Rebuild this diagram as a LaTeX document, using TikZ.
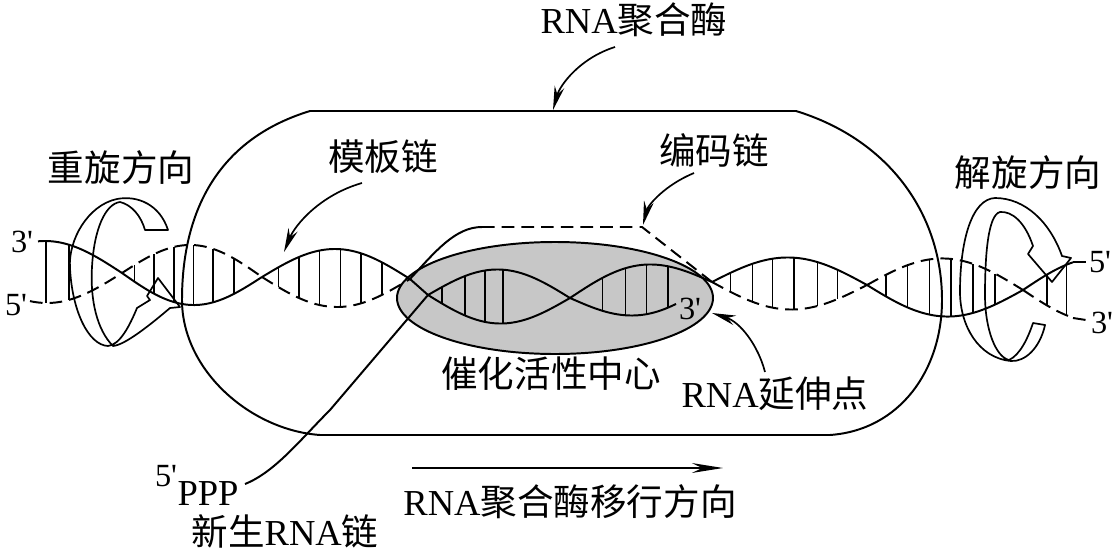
\documentclass[tikz,border=0pt]{standalone}
\usepackage{fontspec}
\setmainfont{Liberation Serif}
\newfontfamily\cjk{Noto Sans CJK SC}
\usetikzlibrary{arrows.meta}
\begin{document}
\begin{tikzpicture}[x=0.025cm, y=-0.025cm, line width=1.4pt,
	tmpl/.style={},
	cod/.style={dash pattern=on 9pt off 5pt},
	rna/.style={},
	rung/.style={line width=1.1pt},
	ring/.style={line width=1.2pt, line join=round},
	lbl/.style={inner sep=0pt, font=\fontsize{26}{30}\selectfont},
	endlbl/.style={inner sep=0pt, font=\fontsize{23}{26}\selectfont},
	pointer/.style={-{Stealth[length=17pt,width=7pt]}, line width=1.2pt}]
	\useasboundingbox (0,0) rectangle (1119,552);
	% enzyme
	\draw (310,111) -- (796,111) .. controls (890,140) and (942,215) .. (942,300)
		.. controls (942,370) and (900,430) .. (830,435) -- (320,435)
		.. controls (250,430) and (182,370) .. (182,300)
		.. controls (182,215) and (215,140) .. (310,111) -- cycle;
	\draw [fill=black!22] (555,298) ellipse [x radius=158, y radius=56];
	% strands
	\foreach \a/\ya/\b/\yb/\A/\ds/\de/\sg/\sty in {
		-30/271/122/273/31/38/122/-1/tmpl, -30/271/122/273/31/30/122/1/cod,
		122/273/262/277/30/122/262/-1/cod, 122/273/262/277/30/122/262/1/tmpl,
		262/277/410/279/29/262/410/-1/tmpl, 262/277/410/279/29/262/410/1/cod,
		428/295/570/298/27/428/570/-1/rna, 428/295/570/298/27/428/570/1/tmpl,
		570/298/712/282/25/570/712/-1/tmpl, 570/298/712/282/25/570/676/1/rna,
		712/282/867/285/26/712/867/-1/tmpl, 712/282/867/285/26/712/867/1/cod,
		867/285/1023/290/29/867/1023/-1/cod, 867/285/1023/290/29/867/1023/1/tmpl,
		1023/290/1173/290/32/1023/1073/-1/tmpl, 1023/290/1173/290/32/1023/1073/1/cod} {
		\draw [\sty, domain=\ds:\de, samples=30, smooth] plot (\x, {\ya+(\yb-\ya)*((\x-(\a))/(\b-(\a)))+(\sg)*\A*sin(180*((\x-(\a))/(\b-(\a))))});
	}
	% base pairs
	\foreach \a/\ya/\b/\yb/\A/\tl in {
		-30/271/122/273/31/{0.5,0.65},
		122/273/262/277/30/{0.09,0.23,0.37,0.51,0.65,0.8},
		262/277/410/279/29/{0.11,0.25,0.39,0.53,0.67,0.81},
		428/295/570/298/27/{0.1,0.26,0.4,0.53},
		570/298/712/282/25/{0.23,0.39,0.54,0.69},
		712/282/867/285/26/{0.12,0.26,0.39,0.53,0.68,0.81},
		867/285/1023/290/29/{0.12,0.26,0.4,0.54,0.68,0.82},
		1023/290/1173/290/32/{0.16,0.29}} {
		\foreach \rt in \tl {
			\pgfmathsetmacro\rx{\a+\rt*(\b-(\a))}
			\pgfmathsetmacro\rc{\ya+\rt*(\yb-\ya)}
			\pgfmathsetmacro\rh{\A*sin(180*\rt)}
			\draw [rung] (\rx,\rc-\rh) -- (\rx,\rc+\rh);
		}
	}
	\draw [tmpl] (410,279) -- (428,295);
	\draw (410,279) .. controls (435,252) and (455,227) .. (482,227);
	\draw [cod] (482,227) -- (642,227) -- (712,282);
	\draw [rna] (245,484) .. controls (275,472) and (300,440) .. (330,410) -- (428,295);
	\draw [tmpl] (1073,262) -- (1086,262);
	\draw [cod] (1073,318) -- (1086,320);
	% rotation arrows
	\draw [ring] (168,230) .. controls (160,205) and (138,195) .. (117,199)
		.. controls (88,205) and (68,240) .. (70,268)
		.. controls (72,310) and (88,345) .. (108,346)
		.. controls (120,345) and (130,325) .. (137,308)
		-- (150,300) -- (147,296) -- (158,278) -- (180,307) -- (170,308)
		.. controls (150,325) and (125,345) .. (113,346)
		.. controls (97,330) and (90,300) .. (92,267)
		.. controls (94,230) and (105,204) .. (120,202)
		.. controls (132,205) and (141,216) .. (145,230) -- cycle;
	\draw [ring] (1045,325) .. controls (1040,348) and (1025,362) .. (1011,361)
		.. controls (978,358) and (960,325) .. (960,292)
		.. controls (960,240) and (972,199) .. (995,198)
		.. controls (1025,198) and (1050,222) .. (1062,256)
		-- (1071,258) -- (1052,282) -- (1028,254) -- (1033,246)
		.. controls (1025,222) and (1012,211) .. (1000,212)
		.. controls (988,215) and (985,255) .. (985,295)
		.. controls (985,330) and (996,357) .. (1009,360)
		.. controls (1020,355) and (1028,338) .. (1033,323) -- cycle;
	% labels
	\node [lbl] (enzLbl) at (634,20) {RNA{\cjk 聚合酶}};
	\node [lbl] (tmplLbl) at (383,157) {\cjk 模板链};
	\node [lbl] (codLbl) at (714,150) {\cjk 编码链};
	\node [lbl] (rewind) at (121,168) {\cjk 重旋方向};
	\node [lbl] (unwind) at (1028,173) {\cjk 解旋方向};
	\node [lbl] (centre) at (551,374) {\cjk 催化活性中心};
	\node [lbl] (growLbl) at (775,394) {RNA{\cjk 延伸点}};
	\node [lbl] (moveLbl) at (570,502) {RNA{\cjk 聚合酶移行方向}};
	\node [lbl] (newRna) at (285,531) {{\cjk 新生}RNA{\cjk 链}};
	\node [endlbl, font=\fontsize{26}{28}\selectfont] (ppp) at (208,494) {PPP};
	\node [endlbl] (ppp5) at (166,476) {5\textquotesingle};
	\node [endlbl] (l3) at (22,242) {3\textquotesingle};
	\node [endlbl] (l5) at (16,305) {5\textquotesingle};
	\node [endlbl] (r5) at (1100,262) {5\textquotesingle};
	\node [endlbl] (r3) at (1102,323) {3\textquotesingle};
	\node [endlbl] (rna3) at (690,309) {3\textquotesingle};
	% pointers
	\coordinate (enzFrom) at (615,47);
	\coordinate (enzTo) at (553,110);
	\coordinate (tmplFrom) at (362,183);
	\coordinate (tmplTo) at (284,252);
	\coordinate (codFrom) at (694,173);
	\coordinate (codTo) at (643,225);
	\coordinate (growFrom) at (765,372);
	\coordinate (growTo) at (712,313);
	\coordinate (moveFrom) at (412,468);
	\coordinate (moveTo) at (723,468);
	\draw [pointer] (enzFrom) .. controls (580,58) and (560,85) .. (enzTo);
	\draw [pointer] (tmplFrom) .. controls (320,195) and (295,225) .. (tmplTo);
	\draw [pointer] (codFrom) .. controls (665,185) and (648,205) .. (codTo);
	\draw [pointer] (growFrom) .. controls (758,345) and (740,322) .. (growTo);
	\draw [-{Stealth[length=22pt,width=7pt]}, line width=1.2pt] (moveFrom) -- (moveTo);
\end{tikzpicture}
\end{document}
